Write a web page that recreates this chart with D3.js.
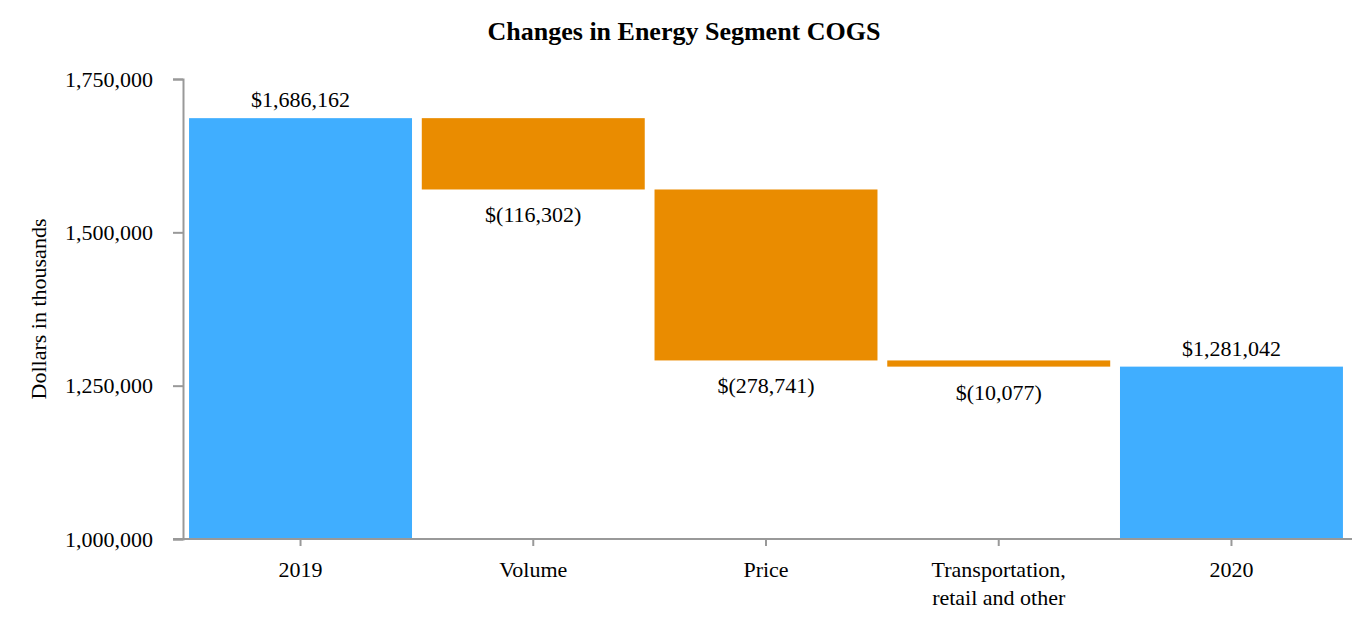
<!DOCTYPE html>
<html>
<head>
<meta charset="utf-8">
<script src="https://cdn.jsdelivr.net/npm/d3@7"></script>
<style>
  body { margin: 0; background: #fff; }
  text { font-family: "Liberation Serif", "Times New Roman", serif; fill: #000; }
</style>
</head>
<body>
<svg id="chart" width="1368" height="626"></svg>
<script>
var categories = ['2019', 'Volume', 'Price', 'Transportation, retail and other', '2020'];
var changes = [1686162, -116302, -278741, -10077, 1281042];
var isTotal = [true, false, false, false, true];
var yTicks = [1000000, 1250000, 1500000, 1750000];

var blue = '#40aeff';
var orange = '#ea8c00';
var axisGrey = '#999';

var svg = d3.select('#chart');

// build running totals for the waterfall
var running = 0;
var steps = categories.map(function (cat, i) {
  var start, end;
  if (isTotal[i]) {
    start = 1000000;
    end = changes[i];
    running = changes[i];
  } else {
    start = running;
    end = running + changes[i];
    running = end;
  }
  return {cat: cat, value: changes[i], total: isTotal[i],
    lo: Math.min(start, end), hi: Math.max(start, end)};
});

var x = d3.scaleBand()
  .domain(categories)
  .range([183, 1349])
  .paddingInner(0.042)
  .paddingOuter(0.026);

var y = d3.scaleLinear()
  .domain([1000000, 1750000])
  .range([539, 79]);

var fmt = d3.format(',');
function labelText(d) {
  return d.value < 0 ? '$(' + fmt(-d.value) + ')' : '$' + fmt(d.value);
}

svg.append('text')
  .attr('x', 684)
  .attr('y', 40)
  .attr('text-anchor', 'middle')
  .style('font-size', '26px')
  .style('font-weight', 'bold')
  .text('Changes in Energy Segment COGS');

svg.append('text')
  .attr('transform', 'translate(46,309) rotate(-90)')
  .attr('text-anchor', 'middle')
  .style('font-size', '22px')
  .text('Dollars in thousands');

svg.selectAll('rect.bar')
  .data(steps)
  .enter().append('rect')
  .attr('class', 'bar')
  .attr('x', function (d) { return x(d.cat); })
  .attr('width', x.bandwidth())
  .attr('y', function (d) { return y(d.hi); })
  .attr('height', function (d) { return y(d.lo) - y(d.hi); })
  .attr('fill', function (d) { return d.total ? blue : orange; });

// y axis
var yAxis = svg.append('g')
  .attr('transform', 'translate(183,0)')
  .call(d3.axisLeft(y).tickValues(yTicks).tickSize(10).tickPadding(20)
    .tickFormat(fmt));
yAxis.select('.domain').attr('stroke', axisGrey).attr('stroke-width', 2);
yAxis.selectAll('.tick line').attr('stroke', axisGrey).attr('stroke-width', 2);
yAxis.selectAll('.tick text')
  .style('font-size', '22px')
  .style('font-family', '"Liberation Serif", serif');

// x axis
var xAxis = svg.append('g')
  .attr('transform', 'translate(0,539)')
  .call(d3.axisBottom(x).tickSize(7).tickPadding(14).tickSizeOuter(0));
xAxis.select('.domain').remove();
xAxis.append('line')
  .attr('x1', 173).attr('x2', 1352)
  .attr('stroke', axisGrey).attr('stroke-width', 2);
xAxis.selectAll('.tick line').attr('stroke', axisGrey).attr('stroke-width', 2);
xAxis.selectAll('.tick text').remove();
xAxis.selectAll('.tick').each(function (d) {
  var words = d === 'Transportation, retail and other'
    ? ['Transportation,', 'retail and other'] : [d];
  var t = d3.select(this).append('text')
    .attr('text-anchor', 'middle')
    .style('font-size', '22px')
    .style('font-family', '"Liberation Serif", serif')
    .attr('fill', '#000');
  words.forEach(function (w, i) {
    t.append('tspan').attr('x', 0).attr('y', 38 + i * 28).text(w);
  });
});

// value labels
svg.selectAll('text.val')
  .data(steps)
  .enter().append('text')
  .attr('class', 'val')
  .attr('x', function (d) { return x(d.cat) + x.bandwidth() / 2; })
  .attr('y', function (d) {
    return d.value < 0 ? y(d.lo) + 33 : y(d.hi) - 11;
  })
  .attr('text-anchor', 'middle')
  .style('font-size', '22px')
  .text(labelText);
</script>
</body>
</html>
